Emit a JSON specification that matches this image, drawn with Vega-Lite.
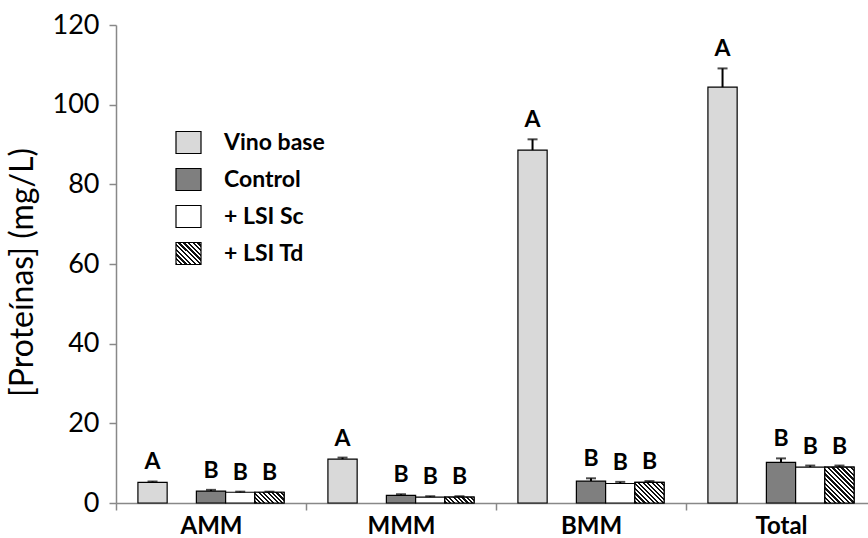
{
  "$schema": "https://vega.github.io/schema/vega-lite/v6.json",
  "width": 760,
  "height": 478,
  "autosize": {"type": "none"},
  "padding": {"left": 116, "top": 25, "right": -8, "bottom": 35},
  "config": {
    "view": {"stroke": null},
    "font": "Lato"
  },
  "data": {
    "values": [
      {"fraccion": "AMM", "serie": "Vino base", "valor": 5.2, "sup": 5.4, "letra": "A"},
      {"fraccion": "AMM", "serie": "Control", "valor": 3.0, "sup": 3.3, "letra": "B"},
      {"fraccion": "AMM", "serie": "+ LSI Sc", "valor": 2.7, "sup": 2.85, "letra": "B"},
      {"fraccion": "AMM", "serie": "+ LSI Td", "valor": 2.7, "sup": 2.85, "letra": "B"},
      {"fraccion": "MMM", "serie": "Vino base", "valor": 11.0, "sup": 11.4, "letra": "A"},
      {"fraccion": "MMM", "serie": "Control", "valor": 1.9, "sup": 2.2, "letra": "B"},
      {"fraccion": "MMM", "serie": "+ LSI Sc", "valor": 1.5, "sup": 1.7, "letra": "B"},
      {"fraccion": "MMM", "serie": "+ LSI Td", "valor": 1.5, "sup": 1.7, "letra": "B"},
      {"fraccion": "BMM", "serie": "Vino base", "valor": 88.6, "sup": 91.3, "letra": "A"},
      {"fraccion": "BMM", "serie": "Control", "valor": 5.5, "sup": 6.2, "letra": "B"},
      {"fraccion": "BMM", "serie": "+ LSI Sc", "valor": 4.9, "sup": 5.3, "letra": "B"},
      {"fraccion": "BMM", "serie": "+ LSI Td", "valor": 5.2, "sup": 5.5, "letra": "B"},
      {"fraccion": "Total", "serie": "Vino base", "valor": 104.4, "sup": 109.1, "letra": "A"},
      {"fraccion": "Total", "serie": "Control", "valor": 10.2, "sup": 11.2, "letra": "B"},
      {"fraccion": "Total", "serie": "+ LSI Sc", "valor": 9.0, "sup": 9.4, "letra": "B"},
      {"fraccion": "Total", "serie": "+ LSI Td", "valor": 9.0, "sup": 9.4, "letra": "B"}
    ]
  },
  "encoding": {
    "x": {
      "field": "fraccion",
      "type": "nominal",
      "sort": ["AMM", "MMM", "BMM", "Total"],
      "scale": {"paddingInner": 0, "paddingOuter": 0},
      "axis": {
        "title": null,
        "tickBand": "extent",
        "labelAngle": 0,
        "labelFont": "Lato",
        "labelFontSize": 24,
        "labelFontWeight": "bold",
        "labelColor": "#000000",
        "labelPadding": 4,
        "domainColor": "#888888",
        "domainWidth": 1.5,
        "tickColor": "#888888",
        "tickWidth": 1.5,
        "tickSize": 7
      }
    },
    "xOffset": {
      "field": "serie",
      "type": "nominal",
      "scale": {
        "domain": ["Vino base", "_hueco", "Control", "+ LSI Sc", "+ LSI Td"],
        "paddingInner": 0,
        "paddingOuter": 0.75
      }
    }
  },
  "layer": [
    {
      "mark": {"type": "bar", "stroke": "#000000", "strokeWidth": 1.2},
      "encoding": {
        "y": {
          "field": "valor",
          "type": "quantitative",
          "scale": {"domain": [0, 120], "nice": false},
          "axis": {
            "title": "[Proteínas] (mg/L)",
            "values": [0, 20, 40, 60, 80, 100, 120],
            "grid": false,
            "domainColor": "#888888",
            "domainWidth": 1.5,
            "tickColor": "#888888",
            "tickWidth": 1.5,
            "tickSize": 7,
            "labelFont": "Lato",
            "labelFontSize": 27,
            "labelColor": "#000000",
            "labelPadding": 10,
            "titleFont": "Lato",
            "titleFontSize": 32,
            "titleFontWeight": "normal",
            "titleColor": "#000000",
            "titleAngle": -90,
            "titleX": -94,
            "titleY": 247,
            "titleAlign": "center",
            "titleBaseline": "middle"
          }
        },
        "fill": {
          "field": "serie",
          "type": "nominal",
          "scale": {
            "domain": ["Vino base", "Control", "+ LSI Sc", "+ LSI Td"],
            "range": [
              "#d9d9d9",
              "#7f7f7f",
              "#ffffff",
              {"expr": "{gradient: 'linear', x1: 0, y1: 1, x2: 1.0595, y2: 0.0676, stops: [{offset: 0, color: '#111111'}, {offset: 0.05, color: '#111111'}, {offset: 0.05, color: '#ffffff'}, {offset: 0.1, color: '#ffffff'}, {offset: 0.1, color: '#111111'}, {offset: 0.15, color: '#111111'}, {offset: 0.15, color: '#ffffff'}, {offset: 0.2, color: '#ffffff'}, {offset: 0.2, color: '#111111'}, {offset: 0.25, color: '#111111'}, {offset: 0.25, color: '#ffffff'}, {offset: 0.3, color: '#ffffff'}, {offset: 0.3, color: '#111111'}, {offset: 0.35, color: '#111111'}, {offset: 0.35, color: '#ffffff'}, {offset: 0.4, color: '#ffffff'}, {offset: 0.4, color: '#111111'}, {offset: 0.45, color: '#111111'}, {offset: 0.45, color: '#ffffff'}, {offset: 0.5, color: '#ffffff'}, {offset: 0.5, color: '#111111'}, {offset: 0.55, color: '#111111'}, {offset: 0.55, color: '#ffffff'}, {offset: 0.6, color: '#ffffff'}, {offset: 0.6, color: '#111111'}, {offset: 0.65, color: '#111111'}, {offset: 0.65, color: '#ffffff'}, {offset: 0.7, color: '#ffffff'}, {offset: 0.7, color: '#111111'}, {offset: 0.75, color: '#111111'}, {offset: 0.75, color: '#ffffff'}, {offset: 0.8, color: '#ffffff'}, {offset: 0.8, color: '#111111'}, {offset: 0.85, color: '#111111'}, {offset: 0.85, color: '#ffffff'}, {offset: 0.9, color: '#ffffff'}, {offset: 0.9, color: '#111111'}, {offset: 0.95, color: '#111111'}, {offset: 0.95, color: '#ffffff'}, {offset: 1, color: '#ffffff'}]}"}
            ]
          },
          "legend": {
            "orient": "none",
            "legendX": 59,
            "legendY": 104,
            "title": null,
            "padding": 0,
            "symbolType": "M-1,-0.88H1V0.88H-1Z",
            "symbolSize": 625,
            "symbolStrokeColor": "#000000",
            "symbolStrokeWidth": 1.2,
            "symbolOpacity": 1,
            "labelFont": "Lato",
            "labelFontSize": 23,
            "labelFontWeight": "bold",
            "labelColor": "#000000",
            "labelOffset": 22,
            "rowPadding": 10
          }
        }
      }
    },
    {
      "transform": [{"filter": "datum.fraccion == 'AMM' && datum.serie == '+ LSI Td'"}],
      "mark": {
        "type": "bar", "stroke": "#000000", "strokeWidth": 1.2,
        "fill": {
          "gradient": "linear", "x1": 0, "y1": 1, "x2": 1.2048, "y2": 0.5569,
          "stops": [
            {"offset": 0, "color": "#111111"}, {"offset": 0.0556, "color": "#111111"}, {"offset": 0.0556, "color": "#ffffff"}, {"offset": 0.1111, "color": "#ffffff"},
            {"offset": 0.1111, "color": "#111111"}, {"offset": 0.1667, "color": "#111111"}, {"offset": 0.1667, "color": "#ffffff"}, {"offset": 0.2222, "color": "#ffffff"},
            {"offset": 0.2222, "color": "#111111"}, {"offset": 0.2778, "color": "#111111"}, {"offset": 0.2778, "color": "#ffffff"}, {"offset": 0.3333, "color": "#ffffff"},
            {"offset": 0.3333, "color": "#111111"}, {"offset": 0.3889, "color": "#111111"}, {"offset": 0.3889, "color": "#ffffff"}, {"offset": 0.4444, "color": "#ffffff"},
            {"offset": 0.4444, "color": "#111111"}, {"offset": 0.5, "color": "#111111"}, {"offset": 0.5, "color": "#ffffff"}, {"offset": 0.5556, "color": "#ffffff"},
            {"offset": 0.5556, "color": "#111111"}, {"offset": 0.6111, "color": "#111111"}, {"offset": 0.6111, "color": "#ffffff"}, {"offset": 0.6667, "color": "#ffffff"},
            {"offset": 0.6667, "color": "#111111"}, {"offset": 0.7222, "color": "#111111"}, {"offset": 0.7222, "color": "#ffffff"}, {"offset": 0.7778, "color": "#ffffff"},
            {"offset": 0.7778, "color": "#111111"}, {"offset": 0.8333, "color": "#111111"}, {"offset": 0.8333, "color": "#ffffff"}, {"offset": 0.8889, "color": "#ffffff"},
            {"offset": 0.8889, "color": "#111111"}, {"offset": 0.9444, "color": "#111111"}, {"offset": 0.9444, "color": "#ffffff"}, {"offset": 1, "color": "#ffffff"}
          ]
        }
      },
      "encoding": {"y": {"field": "valor", "type": "quantitative"}}
    },
    {
      "transform": [{"filter": "datum.fraccion == 'MMM' && datum.serie == '+ LSI Td'"}],
      "mark": {
        "type": "bar", "stroke": "#000000", "strokeWidth": 1.2,
        "fill": {
          "gradient": "linear", "x1": 0, "y1": 1, "x2": 1.156, "y2": 0.7639,
          "stops": [
            {"offset": 0, "color": "#111111"}, {"offset": 0.0625, "color": "#111111"}, {"offset": 0.0625, "color": "#ffffff"}, {"offset": 0.125, "color": "#ffffff"},
            {"offset": 0.125, "color": "#111111"}, {"offset": 0.1875, "color": "#111111"}, {"offset": 0.1875, "color": "#ffffff"}, {"offset": 0.25, "color": "#ffffff"},
            {"offset": 0.25, "color": "#111111"}, {"offset": 0.3125, "color": "#111111"}, {"offset": 0.3125, "color": "#ffffff"}, {"offset": 0.375, "color": "#ffffff"},
            {"offset": 0.375, "color": "#111111"}, {"offset": 0.4375, "color": "#111111"}, {"offset": 0.4375, "color": "#ffffff"}, {"offset": 0.5, "color": "#ffffff"},
            {"offset": 0.5, "color": "#111111"}, {"offset": 0.5625, "color": "#111111"}, {"offset": 0.5625, "color": "#ffffff"}, {"offset": 0.625, "color": "#ffffff"},
            {"offset": 0.625, "color": "#111111"}, {"offset": 0.6875, "color": "#111111"}, {"offset": 0.6875, "color": "#ffffff"}, {"offset": 0.75, "color": "#ffffff"},
            {"offset": 0.75, "color": "#111111"}, {"offset": 0.8125, "color": "#111111"}, {"offset": 0.8125, "color": "#ffffff"}, {"offset": 0.875, "color": "#ffffff"},
            {"offset": 0.875, "color": "#111111"}, {"offset": 0.9375, "color": "#111111"}, {"offset": 0.9375, "color": "#ffffff"}, {"offset": 1, "color": "#ffffff"}
          ]
        }
      },
      "encoding": {"y": {"field": "valor", "type": "quantitative"}}
    },
    {
      "transform": [{"filter": "datum.fraccion == 'BMM' && datum.serie == '+ LSI Td'"}],
      "mark": {
        "type": "bar", "stroke": "#000000", "strokeWidth": 1.2,
        "fill": {
          "gradient": "linear", "x1": 0, "y1": 1, "x2": 1.1375, "y2": 0.194,
          "stops": [
            {"offset": 0, "color": "#111111"}, {"offset": 0.0455, "color": "#111111"}, {"offset": 0.0455, "color": "#ffffff"}, {"offset": 0.0909, "color": "#ffffff"},
            {"offset": 0.0909, "color": "#111111"}, {"offset": 0.1364, "color": "#111111"}, {"offset": 0.1364, "color": "#ffffff"}, {"offset": 0.1818, "color": "#ffffff"},
            {"offset": 0.1818, "color": "#111111"}, {"offset": 0.2273, "color": "#111111"}, {"offset": 0.2273, "color": "#ffffff"}, {"offset": 0.2727, "color": "#ffffff"},
            {"offset": 0.2727, "color": "#111111"}, {"offset": 0.3182, "color": "#111111"}, {"offset": 0.3182, "color": "#ffffff"}, {"offset": 0.3636, "color": "#ffffff"},
            {"offset": 0.3636, "color": "#111111"}, {"offset": 0.4091, "color": "#111111"}, {"offset": 0.4091, "color": "#ffffff"}, {"offset": 0.4545, "color": "#ffffff"},
            {"offset": 0.4545, "color": "#111111"}, {"offset": 0.5, "color": "#111111"}, {"offset": 0.5, "color": "#ffffff"}, {"offset": 0.5455, "color": "#ffffff"},
            {"offset": 0.5455, "color": "#111111"}, {"offset": 0.5909, "color": "#111111"}, {"offset": 0.5909, "color": "#ffffff"}, {"offset": 0.6364, "color": "#ffffff"},
            {"offset": 0.6364, "color": "#111111"}, {"offset": 0.6818, "color": "#111111"}, {"offset": 0.6818, "color": "#ffffff"}, {"offset": 0.7273, "color": "#ffffff"},
            {"offset": 0.7273, "color": "#111111"}, {"offset": 0.7727, "color": "#111111"}, {"offset": 0.7727, "color": "#ffffff"}, {"offset": 0.8182, "color": "#ffffff"},
            {"offset": 0.8182, "color": "#111111"}, {"offset": 0.8636, "color": "#111111"}, {"offset": 0.8636, "color": "#ffffff"}, {"offset": 0.9091, "color": "#ffffff"},
            {"offset": 0.9091, "color": "#111111"}, {"offset": 0.9545, "color": "#111111"}, {"offset": 0.9545, "color": "#ffffff"}, {"offset": 1, "color": "#ffffff"}
          ]
        }
      },
      "encoding": {"y": {"field": "valor", "type": "quantitative"}}
    },
    {
      "transform": [{"filter": "datum.fraccion == 'Total' && datum.serie == '+ LSI Td'"}],
      "mark": {
        "type": "bar", "stroke": "#000000", "strokeWidth": 1.2,
        "fill": {
          "gradient": "linear", "x1": 0, "y1": 1, "x2": 0.8891, "y2": -0.0905,
          "stops": [
            {"offset": 0, "color": "#111111"}, {"offset": 0.0357, "color": "#111111"}, {"offset": 0.0357, "color": "#ffffff"}, {"offset": 0.0714, "color": "#ffffff"},
            {"offset": 0.0714, "color": "#111111"}, {"offset": 0.1071, "color": "#111111"}, {"offset": 0.1071, "color": "#ffffff"}, {"offset": 0.1429, "color": "#ffffff"},
            {"offset": 0.1429, "color": "#111111"}, {"offset": 0.1786, "color": "#111111"}, {"offset": 0.1786, "color": "#ffffff"}, {"offset": 0.2143, "color": "#ffffff"},
            {"offset": 0.2143, "color": "#111111"}, {"offset": 0.25, "color": "#111111"}, {"offset": 0.25, "color": "#ffffff"}, {"offset": 0.2857, "color": "#ffffff"},
            {"offset": 0.2857, "color": "#111111"}, {"offset": 0.3214, "color": "#111111"}, {"offset": 0.3214, "color": "#ffffff"}, {"offset": 0.3571, "color": "#ffffff"},
            {"offset": 0.3571, "color": "#111111"}, {"offset": 0.3929, "color": "#111111"}, {"offset": 0.3929, "color": "#ffffff"}, {"offset": 0.4286, "color": "#ffffff"},
            {"offset": 0.4286, "color": "#111111"}, {"offset": 0.4643, "color": "#111111"}, {"offset": 0.4643, "color": "#ffffff"}, {"offset": 0.5, "color": "#ffffff"},
            {"offset": 0.5, "color": "#111111"}, {"offset": 0.5357, "color": "#111111"}, {"offset": 0.5357, "color": "#ffffff"}, {"offset": 0.5714, "color": "#ffffff"},
            {"offset": 0.5714, "color": "#111111"}, {"offset": 0.6071, "color": "#111111"}, {"offset": 0.6071, "color": "#ffffff"}, {"offset": 0.6429, "color": "#ffffff"},
            {"offset": 0.6429, "color": "#111111"}, {"offset": 0.6786, "color": "#111111"}, {"offset": 0.6786, "color": "#ffffff"}, {"offset": 0.7143, "color": "#ffffff"},
            {"offset": 0.7143, "color": "#111111"}, {"offset": 0.75, "color": "#111111"}, {"offset": 0.75, "color": "#ffffff"}, {"offset": 0.7857, "color": "#ffffff"},
            {"offset": 0.7857, "color": "#111111"}, {"offset": 0.8214, "color": "#111111"}, {"offset": 0.8214, "color": "#ffffff"}, {"offset": 0.8571, "color": "#ffffff"},
            {"offset": 0.8571, "color": "#111111"}, {"offset": 0.8929, "color": "#111111"}, {"offset": 0.8929, "color": "#ffffff"}, {"offset": 0.9286, "color": "#ffffff"},
            {"offset": 0.9286, "color": "#111111"}, {"offset": 0.9643, "color": "#111111"}, {"offset": 0.9643, "color": "#ffffff"}, {"offset": 1, "color": "#ffffff"}
          ]
        }
      },
      "encoding": {"y": {"field": "valor", "type": "quantitative"}}
    },
    {
      "mark": {"type": "rule", "color": "#000000", "strokeWidth": 2},
      "encoding": {
        "y": {"field": "valor", "type": "quantitative"},
        "y2": {"field": "sup"}
      }
    },
    {
      "mark": {"type": "tick", "color": "#000000", "size": 10, "thickness": 2},
      "encoding": {
        "y": {"field": "sup", "type": "quantitative"}
      }
    },
    {
      "mark": {"type": "text", "font": "Lato", "fontSize": 23, "fontWeight": "bold", "color": "#000000", "baseline": "middle", "dy": -19},
      "encoding": {
        "y": {"field": "sup", "type": "quantitative"},
        "text": {"field": "letra"}
      }
    }
  ]
}
